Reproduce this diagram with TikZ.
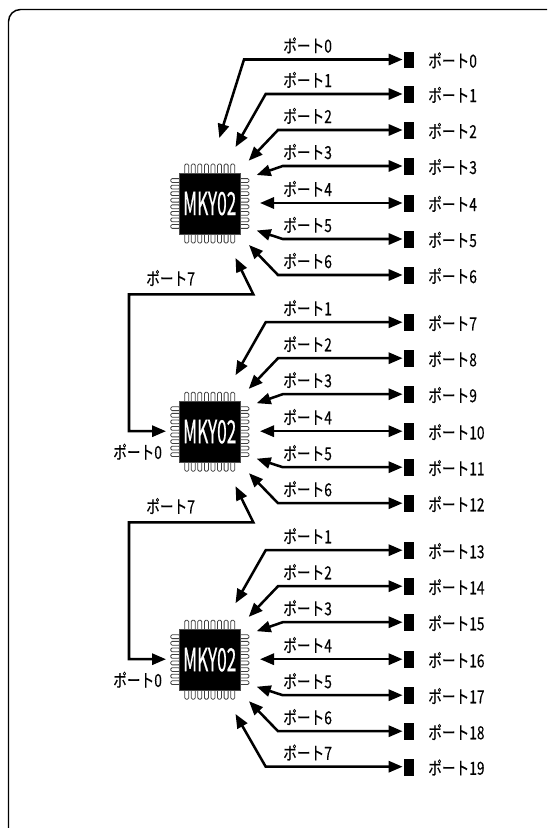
\documentclass[tikz,border=0pt]{standalone}
\usepackage{fontspec}
\usetikzlibrary{arrows.meta}
\newfontfamily\portfont[FakeStretch=0.76,FakeBold=0.25]{Noto Sans CJK JP}
\newfontfamily\chipfont[FakeStretch=0.54,FakeBold=0.4]{Noto Sans CJK JP}
\tikzset{
  x=0.75pt,y=-0.75pt,
  conn/.style={draw=black,line width=1.9pt,line join=miter},
  bitip/.style={{Triangle[length=10.5pt,width=8.4pt]}-{Triangle[length=10.5pt,width=8.4pt]},shorten >=1pt},
  linktip/.style={{Triangle[length=10.5pt,width=8.4pt]}-{Triangle[length=10.5pt,width=8.4pt]}},
  padbox/.style={fill=black,inner sep=0pt,minimum width=7.5pt,minimum height=12.5pt},
  portlabel/.style={font=\portfont\fontsize{13.5pt}{14pt}\selectfont,anchor=west,inner sep=0pt,text=black},
  chipbody/.style={fill=black,draw=black!70,line width=0.4pt,inner sep=0pt,minimum width=45.5pt,minimum height=45.5pt,text=white,font=\chipfont\fontsize{24pt}{24pt}\selectfont},
  pin/.style={fill=white,draw=black!75,line width=0.6pt,rounded corners=1pt},
  frameline/.style={draw=black,line width=1.1pt,rounded corners=9pt},
}
% #1 id, #2 port, #3 pad number, #4 bend x, #5 bend offset, #6 tip x, #7 tip offset, #8 centre y
\newcommand{\portrow}[8]{%
  \coordinate (tip#1) at (#6,{#8+#7});
  \coordinate (bend#1) at (#4,{#8+#5});
  \node[padbox] (pad#1) at (409.2,{#8+#5+0.6}) {};
  \node[portlabel] (top#1) at (283,{#8+#5-14.2}) {ポート#2};
  \node[portlabel] (side#1) at (428,{#8+#5+0.8}) {ポート#3};
  \draw[conn,bitip] (tip#1) -- (bend#1) -- (bend#1 -| pad#1.west);
}
% #1 chip name, #2 centre y
\newcommand{\chip}[2]{%
  \foreach \i in {0,...,7}{
    \pgfmathsetmacro{\pp}{186.7+6.57*\i}
    \pgfmathsetmacro{\qq}{#2-23+6.57*\i}
    \draw[pin] ({\pp-2},{#2-39.5}) rectangle ({\pp+2},{#2-29});
    \draw[pin] ({\pp-2},{#2+29}) rectangle ({\pp+2},{#2+39.5});
    \draw[pin] (170.7,{\qq-1.9}) rectangle (180,{\qq+1.9});
    \draw[pin] (239.5,{\qq-1.9}) rectangle (249,{\qq+1.9});
  }
  \node[chipbody] (#1) at (209.7,#2) {MKY02};
}
\begin{document}
\begin{tikzpicture}
\useasboundingbox (0,0) rectangle (547,828);
\begin{scope}
\clip (0,0) rectangle (547,828);
\draw[frameline] (560,9.5) -- (8.5,9.5) -- (8.5,842) -- (40,842);
\end{scope}

% chips
\chip{chipA}{203.5}
\chip{chipB}{431.7}
\chip{chipC}{659.7}

% chip A rows
\portrow{A0}{0}{0}{244}{-144}{219.3}{-65.5}{203.5}
\portrow{A1}{1}{1}{265.7}{-109.5}{235.5}{-56.5}{203.5}
\portrow{A2}{2}{2}{278}{-73.5}{248.7}{-42.8}{203.5}
\portrow{A3}{3}{3}{282.7}{-37.5}{256.7}{-28.5}{203.5}
\portrow{A4}{4}{4}{282.7}{-0.5}{260}{-0.5}{203.5}
\portrow{A5}{5}{5}{282.7}{35.5}{256.7}{27}{203.5}
\portrow{A6}{6}{6}{278}{71.5}{249}{41.5}{203.5}
% chip B rows
\portrow{B1}{1}{7}{265.7}{-109.5}{235.5}{-56.5}{431.7}
\portrow{B2}{2}{8}{278}{-73.5}{248.7}{-42.8}{431.7}
\portrow{B3}{3}{9}{282.7}{-37.5}{256.7}{-28.5}{431.7}
\portrow{B4}{4}{10}{282.7}{-0.5}{260}{-0.5}{431.7}
\portrow{B5}{5}{11}{282.7}{35.5}{256.7}{27}{431.7}
\portrow{B6}{6}{12}{278}{71.5}{249}{41.5}{431.7}
% chip C rows
\portrow{C1}{1}{13}{265.7}{-109.5}{235.5}{-56.5}{659.7}
\portrow{C2}{2}{14}{278}{-73.5}{248.7}{-42.8}{659.7}
\portrow{C3}{3}{15}{282.7}{-37.5}{256.7}{-28.5}{659.7}
\portrow{C4}{4}{16}{282.7}{-0.5}{260}{-0.5}{659.7}
\portrow{C5}{5}{17}{282.7}{35.5}{256.7}{27}{659.7}
\portrow{C6}{6}{18}{278}{71.5}{249}{41.5}{659.7}
\portrow{C7}{7}{19}{265.7}{107}{235.5}{54.3}{659.7}

% links between chips
\coordinate (outA) at (235.5,258);
\coordinate (kneeA) at (253.3,294.3);
\coordinate (cornerA) at (129,294.3);
\coordinate (inB) at (166,431.2);
\coordinate (outB) at (235.5,486.2);
\coordinate (kneeB) at (253.3,522.3);
\coordinate (cornerB) at (129,522.3);
\coordinate (inC) at (166,659.2);
\draw[conn,linktip] (outA) -- (kneeA) -- (cornerA) |- (inB);
\draw[conn,linktip] (outB) -- (kneeB) -- (cornerB) |- (inC);
\node[portlabel] (linkA) at (146,278) {ポート7};
\node[portlabel] (linkB) at (146,506) {ポート7};
\node[portlabel] (inlabelB) at (113,451.7) {ポート0};
\node[portlabel] (inlabelC) at (113,679.7) {ポート0};
\end{tikzpicture}
\end{document}
